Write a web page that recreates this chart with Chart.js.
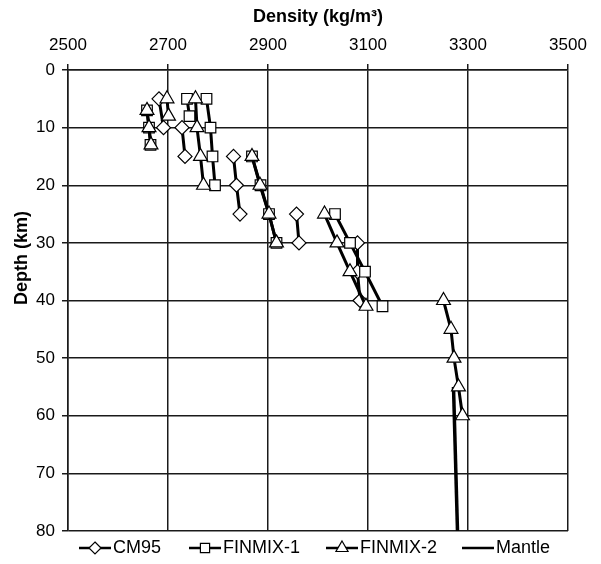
<!DOCTYPE html>
<html>
<head>
<meta charset="utf-8">
<script src="https://cdn.jsdelivr.net/npm/chart.js"></script>
<style>
  html, body { margin: 0; padding: 0; background: #fff; }
  #wrap { width: 601px; height: 564px; }
</style>
</head>
<body>
<div id="wrap"><canvas id="chart-1"></canvas></div>
<script>
// Density (kg/m3) vs depth (km). null splits a profile into separate segments
const cm95Density = [2682, 2691, null, 2728, 2734, null, 2831, 2837, 2844, null, 2957, 2962, null, 3079, 3079, 3084];
const cm95Depth   = [5, 10, null, 10, 15, null, 15, 20, 25, null, 25, 30, null, 30, 35, 40];

const finmix1Density = [2658, 2662, 2665, null, 2738, 2743, null, 2777, 2785, 2789, 2794, null, 2868, 2885, 2902, 2917, null, 3034, 3064, 3094, 3129];
const finmix1Depth   = [7, 10, 13, null, 5, 8, null, 5, 10, 15, 20, null, 15, 20, 25, 30, null, 25, 30, 35, 41];

const finmix2Density = [2658, 2662, 2666, null, 2698, 2701, null, 2755, 2758, 2765, 2771, null, 2868, 2884, 2902, 2917, null, 3013, 3038, 3064, 3096, null, 3251, 3266, 3272, 3281, 3289];
const finmix2Depth   = [7, 10, 13, null, 5, 8, null, 5, 10, 15, 20, null, 15, 20, 25, 30, null, 25, 30, 35, 41, null, 40, 45, 50, 55, 60];

const mantleDensity = [3271, 3279];
const mantleDepth   = [55, 80];

const densityTicks = [2500, 2700, 2900, 3100, 3300, 3500];
const depthTicks = [0, 10, 20, 30, 40, 50, 60, 70, 80];

function toPoints(xs, ys) {
  return xs.map((x, i) => ({ x: x, y: ys[i] }));
}

Chart.defaults.font.family = "'Liberation Sans', Arial, sans-serif";
Chart.defaults.color = '#000';

// small marker painter for the legend
function drawMarker(ctx, style, cx, cy, r) {
  ctx.beginPath();
  if (style === 'rectRot') {
    ctx.moveTo(cx, cy - r); ctx.lineTo(cx + r, cy); ctx.lineTo(cx, cy + r); ctx.lineTo(cx - r, cy);
  } else if (style === 'rect') {
    const s = r * Math.SQRT1_2;
    ctx.rect(cx - s, cy - s, 2 * s, 2 * s);
  } else if (style === 'triangle') {
    ctx.moveTo(cx, cy - r);
    ctx.lineTo(cx + r * Math.sin(Math.PI * 2 / 3), cy + r * 0.5);
    ctx.lineTo(cx - r * Math.sin(Math.PI * 2 / 3), cy + r * 0.5);
  }
  ctx.closePath();
  ctx.fillStyle = '#fff';
  ctx.fill();
  ctx.lineWidth = 1.2;
  ctx.strokeStyle = '#000';
  ctx.stroke();
}

const extrasPlugin = {
  id: 'extras',
  afterDraw(chart) {
    const ctx = chart.ctx;
    ctx.save();
    // y axis title
    ctx.translate(22, 258);
    ctx.rotate(-Math.PI / 2);
    ctx.font = "bold 18px 'Liberation Sans', Arial, sans-serif";
    ctx.textAlign = 'center';
    ctx.textBaseline = 'middle';
    ctx.fillStyle = '#000';
    ctx.fillText('Depth (km)', 0, 0);
    ctx.restore();

    // legend
    const starts = [79, 189, 326, 462];
    const ly = 548;
    ctx.save();
    ctx.font = "18px 'Liberation Sans', Arial, sans-serif";
    ctx.textBaseline = 'middle';
    ctx.fillStyle = '#000';
    chart.data.datasets.forEach((ds, i) => {
      const x0 = starts[i];
      ctx.beginPath();
      ctx.moveTo(x0, ly);
      ctx.lineTo(x0 + 32, ly);
      ctx.lineWidth = 2.5;
      ctx.strokeStyle = '#000';
      ctx.stroke();
      if (ds.pointRadius > 0) drawMarker(ctx, ds.pointStyle, x0 + 16, ly, ds.pointRadius - 1);
      ctx.fillStyle = '#000';
      ctx.fillText(ds.label, x0 + 34, ly);
    });
    ctx.restore();
  }
};

const plainNumber = v => String(v);

new Chart(document.getElementById('chart-1'), {
  type: 'scatter',
  data: {
    datasets: [
      {
        label: 'CM95',
        data: toPoints(cm95Density, cm95Depth),
        showLine: true,
        borderColor: '#000',
        borderWidth: 3,
        pointStyle: 'rectRot',
        pointRadius: 7,
        pointBackgroundColor: '#fff',
        pointBorderColor: '#000',
        pointBorderWidth: 1.2,
        order: 2
      },
      {
        label: 'FINMIX-1',
        data: toPoints(finmix1Density, finmix1Depth),
        showLine: true,
        borderColor: '#000',
        borderWidth: 3,
        pointStyle: 'rect',
        pointRadius: 7.5,
        pointBackgroundColor: '#fff',
        pointBorderColor: '#000',
        pointBorderWidth: 1.2,
        order: 1
      },
      {
        label: 'FINMIX-2',
        data: toPoints(finmix2Density, finmix2Depth),
        showLine: true,
        borderColor: '#000',
        borderWidth: 3,
        pointStyle: 'triangle',
        pointRadius: 8,
        pointBackgroundColor: '#fff',
        pointBorderColor: '#000',
        pointBorderWidth: 1.2,
        order: 0
      },
      {
        label: 'Mantle',
        data: toPoints(mantleDensity, mantleDepth),
        showLine: true,
        borderColor: '#000',
        borderWidth: 3.5,
        pointRadius: 0,
        order: 3
      }
    ]
  },
  options: {
    responsive: true,
    maintainAspectRatio: false,
    animation: false,
    layout: { padding: { left: 0, right: 33, top: 0, bottom: 33 } },
    plugins: {
      legend: { display: false },
      tooltip: { enabled: false }
    },
    scales: {
      x: {
        type: 'linear',
        position: 'top',
        min: 2500,
        max: 3500,
        afterBuildTicks: s => { s.ticks = densityTicks.map(v => ({ value: v })); },
        afterFit: s => { s.height = 70; },
        ticks: { font: { size: 17 }, color: '#000', padding: 8, maxRotation: 0, callback: plainNumber },
        grid: { color: '#1a1a1a', lineWidth: 1.5, tickLength: 6, tickColor: '#1a1a1a' },
        border: { color: '#1a1a1a', width: 1.5 },
        title: {
          display: true,
          text: 'Density (kg/m³)',
          font: { size: 18, weight: 'bold' },
          color: '#000',
          padding: { top: 6, bottom: 0 }
        }
      },
      y: {
        type: 'linear',
        reverse: true,
        min: 0,
        max: 80,
        afterBuildTicks: s => { s.ticks = depthTicks.map(v => ({ value: v })); },
        afterFit: s => { s.width = 68; },
        ticks: { font: { size: 17 }, color: '#000', padding: 7, callback: plainNumber },
        grid: { color: '#1a1a1a', lineWidth: 1.5, tickLength: 6, tickColor: '#1a1a1a' },
        border: { color: '#1a1a1a', width: 1.5 }
      }
    }
  },
  plugins: [extrasPlugin]
});
</script>
</body>
</html>
